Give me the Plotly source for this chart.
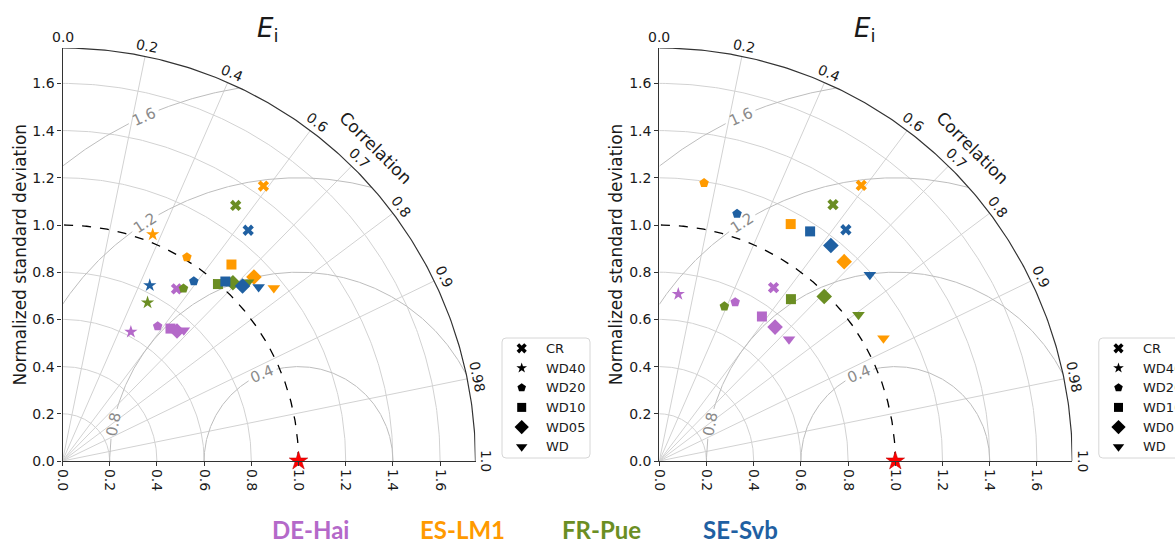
import numpy as np
import plotly.graph_objects as go

W, H = 1175, 543

# ---------------- data ----------------
sites = ["DE-Hai", "ES-LM1", "FR-Pue", "SE-Svb"]
site_colors = ["#b469c9", "#ff9a00", "#6b8e23", "#1f60a2"]
cases = ["CR", "WD40", "WD20", "WD10", "WD05", "WD"]
case_symbols = ["x", "star", "pentagon", "square", "diamond", "triangle-down"]
case_sizes = [10, 10, 10, 10, 12, 11]

# left panel: normalized standard deviation / correlation, order = cases
L_std_DE_Hai = [0.875, 0.619, 0.699, 0.724, 0.734, 0.756]
L_cor_DE_Hai = [0.552, 0.468, 0.577, 0.632, 0.661, 0.680]
L_std_ES_LM1 = [1.443, 1.033, 1.012, 1.098, 1.125, 1.157]
L_cor_ES_LM1 = [0.590, 0.370, 0.521, 0.652, 0.721, 0.774]
L_std_FR_Pue = [1.308, 0.762, 0.893, 0.998, 1.045, 1.092]
L_cor_FR_Pue = [0.561, 0.473, 0.574, 0.660, 0.691, 0.720]
L_std_SE_Svb = [1.255, 0.831, 0.943, 1.027, 1.064, 1.111]
L_cor_SE_Svb = [0.627, 0.445, 0.590, 0.672, 0.717, 0.748]

# right panel
R_std_DE_Hai = [0.880, 0.712, 0.746, 0.751, 0.750, 0.754]
R_cor_DE_Hai = [0.550, 0.113, 0.431, 0.579, 0.654, 0.729]
R_std_ES_LM1 = [1.448, None, 1.193, 1.148, 1.152, 1.083]
R_cor_ES_LM1 = [0.591, None, 0.159, 0.485, 0.680, 0.877]
R_std_FR_Pue = [1.312, None, 0.711, 0.884, 0.987, 1.047]
R_cor_FR_Pue = [0.561, None, 0.388, 0.631, 0.708, 0.806]
R_std_SE_Svb = [1.259, None, 1.098, 1.164, 1.167, 1.191]
R_cor_SE_Svb = [0.628, None, 0.300, 0.549, 0.623, 0.749]

std_ticks = [0.0, 0.2, 0.4, 0.6, 0.8, 1.0, 1.2, 1.4, 1.6]
cor_ticks = [0.0, 0.2, 0.4, 0.6, 0.7, 0.8, 0.9, 0.98, 1.0]
rms_levels = [0.4, 0.8, 1.2, 1.6]
rms_label_angles = [112.7, 168.6, 122.8, 114.2]   # position of inline labels (deg, about ref point)
ref_std = 1.0
rmax = 1.75

panels = [
    dict(xa="x", ya="y", ox=62.5, oy=461.0,
         std=[L_std_DE_Hai, L_std_ES_LM1, L_std_FR_Pue, L_std_SE_Svb],
         cor=[L_cor_DE_Hai, L_cor_ES_LM1, L_cor_FR_Pue, L_cor_SE_Svb]),
    dict(xa="x2", ya="y2", ox=659.3, oy=461.0,
         std=[R_std_DE_Hai, R_std_ES_LM1, R_std_FR_Pue, R_std_SE_Svb],
         cor=[R_cor_DE_Hai, R_cor_ES_LM1, R_cor_FR_Pue, R_cor_SE_Svb]),
]
S = 236.0  # pixels per unit

GRID = "#d2d2d2"
RMSC = "#bdbdbd"
TXT = "#1a1a1a"
FONT = "DejaVu Sans"

fig = go.Figure()
annotations = []
shapes = []


def to_paper(p, x, y):
    return (p["ox"] + S * x) / W, 1 - (p["oy"] - S * y) / H


for p in panels:
    xa, ya = p["xa"], p["ya"]
    # std arcs
    t = np.linspace(0, np.pi / 2, 200)
    for r in [0.2, 0.4, 0.6, 0.8, 1.2, 1.4, 1.6]:
        fig.add_trace(go.Scatter(x=r * np.cos(t), y=r * np.sin(t), mode="lines",
                                 line=dict(color=GRID, width=1), xaxis=xa, yaxis=ya,
                                 hoverinfo="skip", showlegend=False))
    # correlation rays
    for c in [0.2, 0.4, 0.6, 0.7, 0.8, 0.9, 0.98]:
        a = np.arccos(c)
        fig.add_trace(go.Scatter(x=[0, rmax * np.cos(a)], y=[0, rmax * np.sin(a)], mode="lines",
                                 line=dict(color=GRID, width=1), xaxis=xa, yaxis=ya,
                                 hoverinfo="skip", showlegend=False))
    # RMS contours
    tt = np.linspace(0, np.pi, 800)
    for lev, la in zip(rms_levels, rms_label_angles):
        xs = ref_std + lev * np.cos(tt)
        ys = lev * np.sin(tt)
        half_gap = (15.0 / (lev * S))
        ok = (xs >= 0) & (xs ** 2 + ys ** 2 <= rmax ** 2) & (np.abs(tt - np.radians(la)) > half_gap)
        xs = np.where(ok, xs, np.nan)
        ys = np.where(ok, ys, np.nan)
        fig.add_trace(go.Scatter(x=xs, y=ys, mode="lines", line=dict(color=RMSC, width=1),
                                 xaxis=xa, yaxis=ya, hoverinfo="skip", showlegend=False,
                                 connectgaps=False))
        lx = ref_std + lev * np.cos(np.radians(la))
        ly = lev * np.sin(np.radians(la))
        px_, py_ = to_paper(p, lx, ly)
        annotations.append(dict(x=px_, y=py_, xref="paper", yref="paper", text=f"{lev:.1f}",
                                showarrow=False, textangle=90 - la,
                                font=dict(family=FONT, size=15, color="#8a8a8a"),
                                xanchor="center", yanchor="middle"))
    # reference std arc (dashed)
    fig.add_trace(go.Scatter(x=ref_std * np.cos(t), y=ref_std * np.sin(t), mode="lines",
                             line=dict(color="black", width=1.3, dash="dash"), xaxis=xa, yaxis=ya,
                             hoverinfo="skip", showlegend=False))
    # outer arc
    fig.add_trace(go.Scatter(x=rmax * np.cos(t), y=rmax * np.sin(t), mode="lines",
                             line=dict(color="#333333", width=1.2), xaxis=xa, yaxis=ya,
                             hoverinfo="skip", showlegend=False, cliponaxis=False))
    # data points
    for si in range(len(sites)):
        xs, ys, syms, szs = [], [], [], []
        for ci in range(len(cases)):
            sd = p["std"][si][ci]
            cr = p["cor"][si][ci]
            if sd is None:
                continue
            xs.append(sd * cr)
            ys.append(sd * np.sqrt(1 - cr ** 2))
            syms.append(case_symbols[ci])
            szs.append(case_sizes[ci])
        fig.add_trace(go.Scatter(x=xs, y=ys, mode="markers", xaxis=xa, yaxis=ya,
                                 marker=dict(symbol=syms, size=szs, color=site_colors[si],
                                             opacity=1, line=dict(width=0)),
                                 name=sites[si], showlegend=False, cliponaxis=False))
    # reference point
    fig.add_trace(go.Scatter(x=[ref_std], y=[0], mode="markers", xaxis=xa, yaxis=ya,
                             marker=dict(symbol="star", size=14, color="red", opacity=1,
                                         line=dict(width=0.5, color="#b00000")),
                             showlegend=False, cliponaxis=False))

    # correlation tick labels
    for c in cor_ticks:
        a = np.degrees(np.arccos(c))
        r_l = 1.795
        px_, py_ = to_paper(p, r_l * np.cos(np.radians(a)), r_l * np.sin(np.radians(a)))
        lab = "0.98" if c == 0.98 else f"{c:.1f}"
        annotations.append(dict(x=px_, y=py_, xref="paper", yref="paper", text=lab,
                                showarrow=False, textangle=90 - a,
                                font=dict(family=FONT, size=14, color=TXT),
                                xanchor="center", yanchor="middle"))
    px_, py_ = to_paper(p, 1.878 * np.cos(np.radians(45)), 1.878 * np.sin(np.radians(45)))
    annotations.append(dict(x=px_, y=py_, xref="paper", yref="paper", text="Correlation",
                            showarrow=False, textangle=45,
                            font=dict(family=FONT, size=17, color=TXT),
                            xanchor="center", yanchor="middle"))
    # title
    px_, py_ = to_paper(p, 0.87, 1.83)
    annotations.append(dict(x=px_, y=py_, xref="paper", yref="paper",
                            text="<i>E</i><sub>i</sub>", showarrow=False,
                            font=dict(family=FONT, size=26, color=TXT),
                            xanchor="center", yanchor="middle"))
    # y label
    px_, py_ = to_paper(p, -0.18, rmax / 2)
    annotations.append(dict(x=px_, y=py_, xref="paper", yref="paper",
                            text="Normalized standard deviation", showarrow=False, textangle=-90,
                            font=dict(family=FONT, size=17, color=TXT),
                            xanchor="center", yanchor="middle"))

    # symbol legend box (pixel layout)
    bx0 = p["ox"] + 439.5
    by0 = 338.0
    bx1 = bx0 + 88
    by1 = 458.0
    rr = 4
    path = (f"M {(bx0+rr)/W},{1-by0/H} L {(bx1-rr)/W},{1-by0/H} Q {bx1/W},{1-by0/H} {bx1/W},{1-(by0+rr)/H} "
            f"L {bx1/W},{1-(by1-rr)/H} Q {bx1/W},{1-by1/H} {(bx1-rr)/W},{1-by1/H} "
            f"L {(bx0+rr)/W},{1-by1/H} Q {bx0/W},{1-by1/H} {bx0/W},{1-(by1-rr)/H} "
            f"L {bx0/W},{1-(by0+rr)/H} Q {bx0/W},{1-by0/H} {(bx0+rr)/W},{1-by0/H} Z")
    shapes.append(dict(type="path", path=path, xref="paper", yref="paper",
                       line=dict(color="#d6d6d6", width=1), fillcolor="white", layer="below"))
    lx_m, ly_m = [], []
    for ci, cname in enumerate(cases):
        yy = by0 + 10.3 + 19.7 * ci
        lx_m.append(bx0 + 19.7)
        ly_m.append(yy)
        annotations.append(dict(x=(bx0 + 42) / W, y=1 - yy / H, xref="paper", yref="paper",
                                text=cname, showarrow=False, xanchor="left", yanchor="middle",
                                font=dict(family=FONT, size=13, color=TXT)))
    fig.add_trace(go.Scatter(x=lx_m, y=ly_m, mode="markers", xaxis="x3", yaxis="y3",
                             marker=dict(symbol=case_symbols, size=[9, 8, 9, 9, 11, 10], color="black",
                                         opacity=1, line=dict(width=0)),
                             showlegend=False, hoverinfo="skip", cliponaxis=False))

# bottom site legend
site_label_x = [310, 462, 601, 740]
for s_, c_, xx in zip(sites, site_colors, site_label_x):
    annotations.append(dict(x=xx / W, y=1 - 529 / H, xref="paper", yref="paper",
                            text=f"<b>{s_}</b>", showarrow=False, xanchor="center", yanchor="middle",
                            font=dict(family="Lato", size=24, color=c_)))


def axis_common(dom, is_x, anchor):
    d = dict(domain=dom, range=[0, rmax], showgrid=False, zeroline=False, showline=True,
             linecolor="#333333", linewidth=1.2, ticks="outside", ticklen=4, tickwidth=1,
             tickcolor="#333333", tickvals=std_ticks, ticktext=[f"{v:.1f}" for v in std_ticks],
             tickfont=dict(family=FONT, size=14, color=TXT), anchor=anchor, fixedrange=True)
    if is_x:
        d["tickangle"] = 90
    return d


layout_axes = {}
for i, p in enumerate(panels):
    xd = [p["ox"] / W, (p["ox"] + rmax * S) / W]
    yd = [(H - p["oy"]) / H, (H - p["oy"] + rmax * S) / H]
    sx = "" if i == 0 else str(i + 1)
    layout_axes["xaxis" + sx] = axis_common(xd, True, "y" + sx)
    layout_axes["yaxis" + sx] = axis_common(yd, False, "x" + sx)

layout_axes["xaxis3"] = dict(domain=[0, 1], range=[0, W], visible=False, anchor="y3", fixedrange=True)
layout_axes["yaxis3"] = dict(domain=[0, 1], range=[H, 0], visible=False, anchor="x3", fixedrange=True)

fig.update_layout(width=W, height=H, margin=dict(l=0, r=0, t=0, b=0, autoexpand=False),
                  paper_bgcolor="white", plot_bgcolor="rgba(0,0,0,0)",
                  annotations=annotations, shapes=shapes, showlegend=False, **layout_axes)

fig.write_html("out.html")
